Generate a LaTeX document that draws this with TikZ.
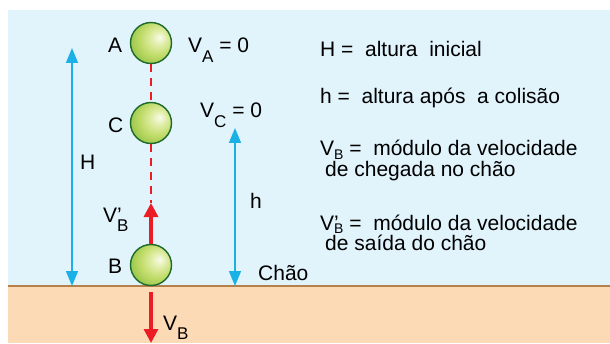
\documentclass[tikz,border=0pt]{standalone}
\usepackage{fontspec}
\setmainfont{Liberation Sans}
\usetikzlibrary{arrows.meta}

\definecolor{sky}{HTML}{E1F3FB}
\definecolor{soil}{HTML}{FCDAB5}
\definecolor{soilline}{HTML}{B5804A}
\definecolor{cyanarrow}{HTML}{1BB1E7}
\definecolor{redarrow}{HTML}{EC1C24}
\definecolor{balledge}{HTML}{1D6A2C}
\definecolor{ballhi}{HTML}{F8FBEC}
\definecolor{ballsoft}{HTML}{E3EFAE}
\definecolor{ballmid}{HTML}{C2DC6A}
\definecolor{ballout}{HTML}{86BD3C}
\definecolor{balldeep}{HTML}{4A982E}
\definecolor{balldark}{HTML}{1E6E28}

% green sphere shading, highlight slightly up and to the right
\pgfdeclareradialshading{greenball}{\pgfpoint{11bp}{7bp}}{%
  color(0bp)=(ballhi); color(8bp)=(ballsoft); color(20bp)=(ballmid);
  color(37bp)=(ballout); color(50bp)=(balldeep); color(64bp)=(balldark)}

% velocity symbols with lowered subscript
\newcommand{\Vlow}[1]{V\raisebox{-0.47em}{\fontsize{17}{17}\selectfont #1}}
\newcommand{\Vplow}[1]{V\rlap{\char"27}\raisebox{-0.47em}{\fontsize{17}{17}\selectfont #1}}
\newcommand{\Vsm}[1]{V\raisebox{-0.16em}{\fontsize{14}{14}\selectfont #1}}
\newcommand{\Vpsm}[1]{V\rlap{\char"27}\raisebox{-0.16em}{\fontsize{14}{14}\selectfont #1}}

\begin{document}
\begin{tikzpicture}[x=1pt,y=1pt,
  ball/.style={circle, minimum size=41pt, inner sep=0pt, draw=balledge,
    line width=1.4pt, shading=greenball},
  lbl/.style={anchor=base west, inner sep=0pt, font=\fontsize{21}{25}\selectfont},
  dim/.style={cyanarrow, line width=1.6pt,
    {Triangle[width=12pt,length=15pt]}-{Triangle[width=12pt,length=15pt]}},
  vel/.style={redarrow, line width=3.2pt, -{Triangle[width=14pt,length=14pt]}},
  trail/.style={redarrow, line width=1.5pt, dash pattern=on 8pt off 6pt}]

\useasboundingbox (0,0) rectangle (610,343);
\fill[white] (0,0) rectangle (610,343);
% air and ground
\fill[sky] (8,57) rectangle (610,333);
\fill[soil] (8,0) rectangle (610,57);
\draw[soilline, line width=1.5pt] (8,57) -- (610,57);

% ball positions
\node[ball] (A) at (151,300) {};
\node[ball] (C) at (151,220) {};
\node[ball] (B) at (151,78) {};

\coordinate (upTip) at (151,140);
\coordinate (downStart) at (151,51);
\coordinate (downTip) at (151,0);

% trajectory and velocities
\draw[trail] (A.south) -- (C.north);
\draw[trail] (C.south) -- (upTip);
\draw[vel] (B.north) -- (upTip);
\draw[vel] (downStart) -- (downTip);

% heights
\coordinate (Htop) at (72,295);
\coordinate (Hbot) at (72,57);
\coordinate (htop) at (235,215);
\coordinate (hbot) at (235,57);
\draw[dim] (Htop) -- (Hbot);
\draw[dim] (htop) -- (hbot);

% labels
\node[lbl] (lA) at (108,290) {A};
\node[lbl] (lC) at (108,210) {C};
\node[lbl] (lB) at (108,70) {B};
\node[lbl] (lH) at (80,173) {H};
\node[lbl] (lh) at (250,135) {h};
\node[lbl] (lChao) at (258,63) {Chão};
\node[lbl] (lVA) at (188,290) {\Vlow{A} = 0};
\node[lbl] (lVC) at (200,225) {\Vlow{C} = 0};
\node[lbl] (lVpB) at (103,121) {\Vplow{B}};
\node[lbl] (lVB) at (163,13) {\Vlow{B}};

% legend
\node[lbl] (nH) at (320,286) {H =\ \ altura\ \ inicial};
\node[lbl] (nh) at (320,239) {h =\ \ altura após\ \ a colisão};
\node[lbl] (nVB) at (320,187) {\Vsm{B} =\ \ módulo da velocidade};
\node[lbl] (nVB2) at (325,166) {de chegada no chão};
\node[lbl] (nVpB) at (320,113) {\Vpsm{B} =\ \ módulo da velocidade};
\node[lbl] (nVpB2) at (325,93) {de saída do chão};
\end{tikzpicture}
\end{document}
